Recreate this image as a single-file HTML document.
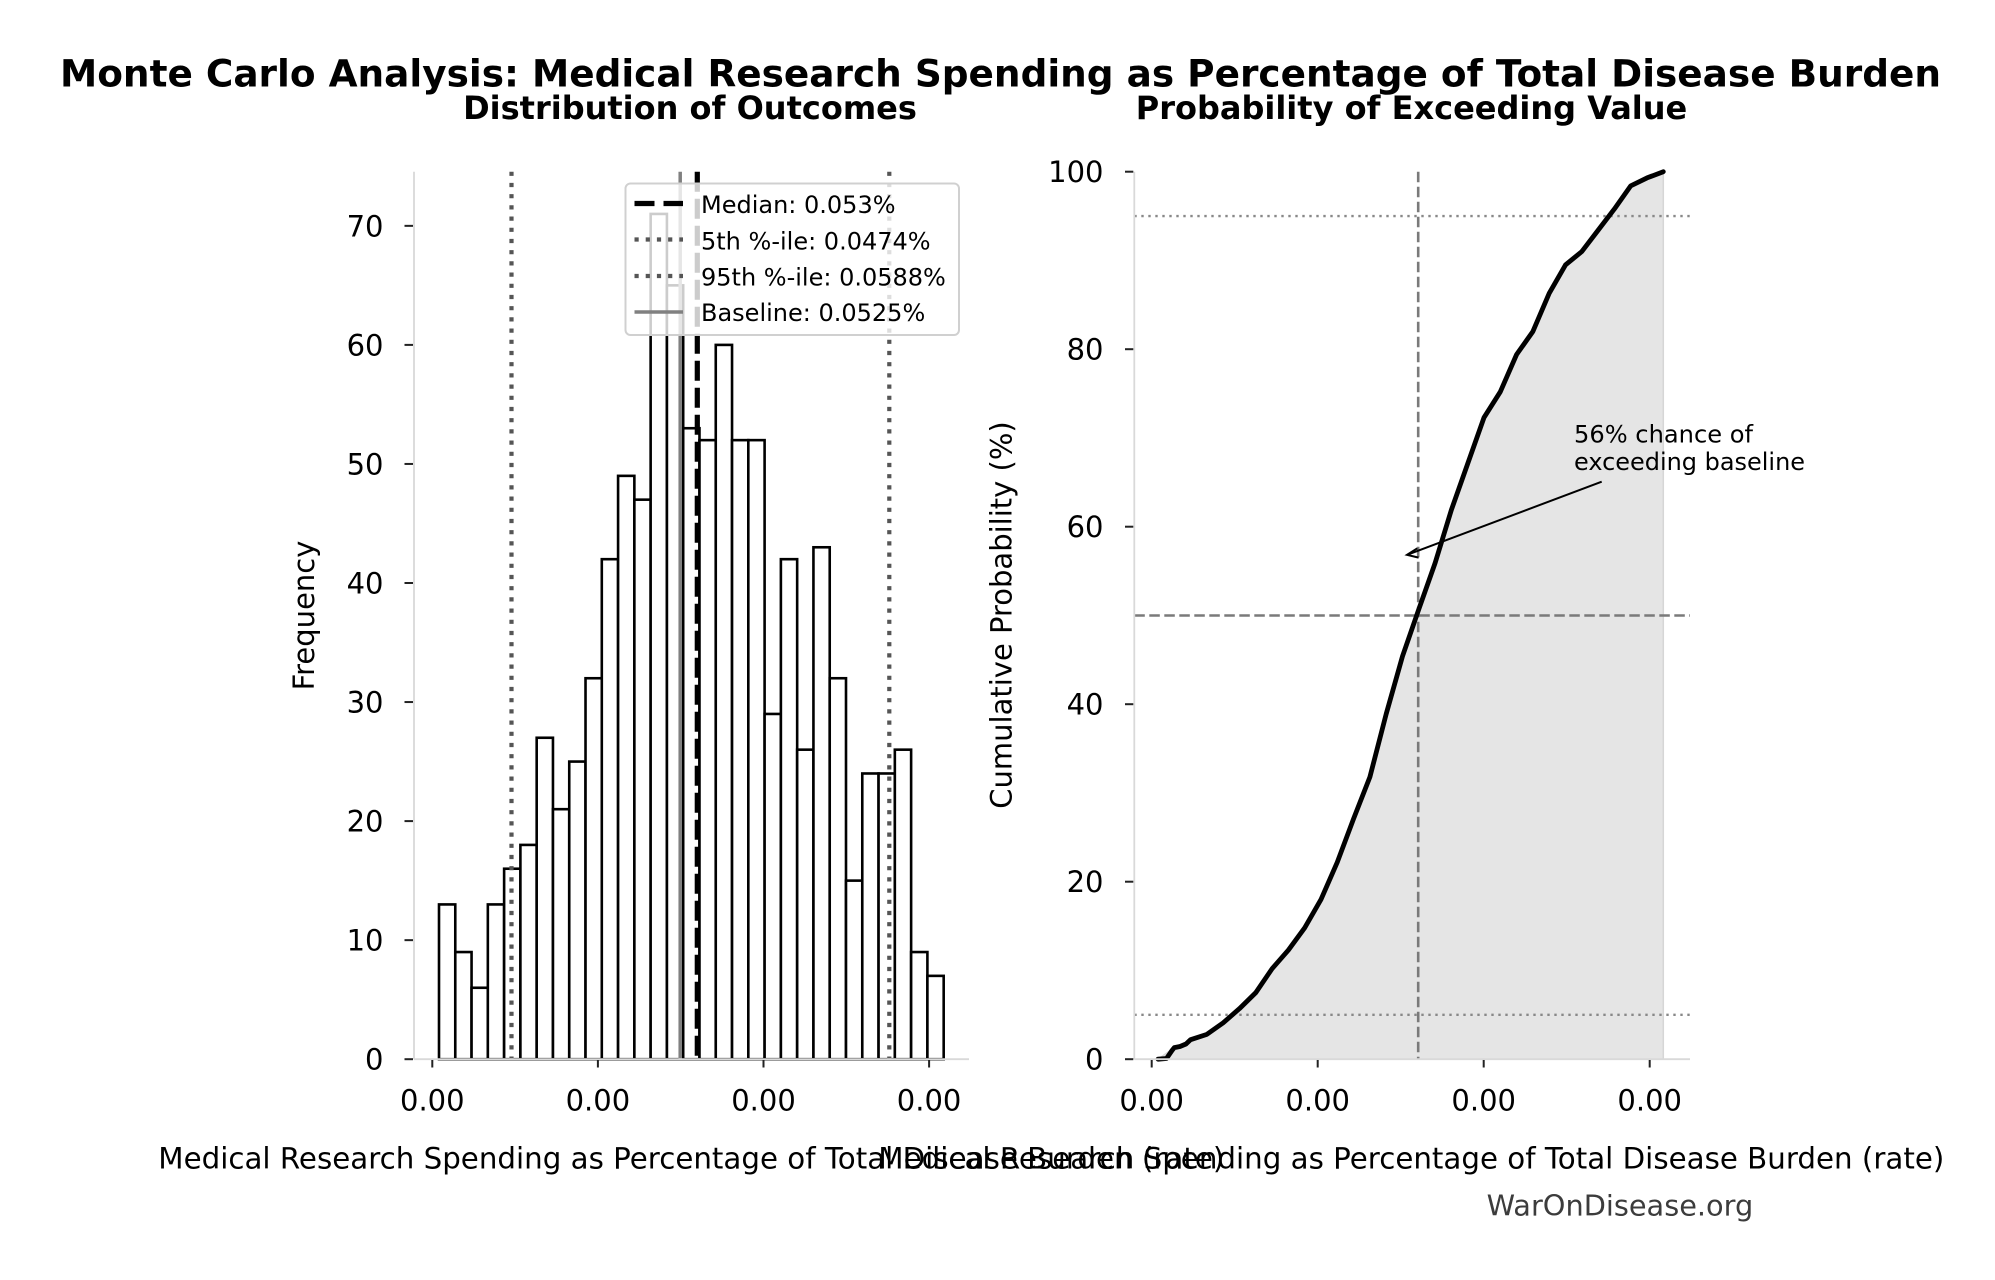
<!DOCTYPE html>
<html>
<head>
<meta charset="utf-8">
<style>
  html, body { margin: 0; padding: 0; background: #ffffff; }
  svg { display: block; }
  text { font-family: "DejaVu Sans", "Liberation Sans", sans-serif; fill: #000; }
</style>
</head>
<body>
<svg width="1995" height="1280" viewBox="0 0 1995 1280" xmlns="http://www.w3.org/2000/svg">
  <rect x="0" y="0" width="1995" height="1280" fill="#ffffff"/>

  <!-- Titles -->
  <text x="60" y="86.7" font-size="37.4" font-weight="bold" textLength="1881" lengthAdjust="spacingAndGlyphs">Monte Carlo Analysis: Medical Research Spending as Percentage of Total Disease Burden</text>
  <text x="690" y="119" font-size="32" font-weight="bold" text-anchor="middle">Distribution of Outcomes</text>
  <text x="1411.5" y="119" font-size="32" font-weight="bold" text-anchor="middle">Probability of Exceeding Value</text>

  <!-- ================= LEFT: HISTOGRAM ================= -->
  <g fill="#ffffff" stroke="#000000" stroke-width="2.6">
    <rect x="439.00" y="904.43" width="16.28" height="154.77"/>
    <rect x="455.28" y="952.05" width="16.28" height="107.15"/>
    <rect x="471.56" y="987.77" width="16.28" height="71.43"/>
    <rect x="487.84" y="904.43" width="16.28" height="154.77"/>
    <rect x="504.12" y="868.72" width="16.28" height="190.48"/>
    <rect x="520.40" y="844.91" width="16.28" height="214.29"/>
    <rect x="536.68" y="737.76" width="16.28" height="321.44"/>
    <rect x="552.96" y="809.19" width="16.28" height="250.01"/>
    <rect x="569.24" y="761.57" width="16.28" height="297.63"/>
    <rect x="585.52" y="678.24" width="16.28" height="380.96"/>
    <rect x="601.80" y="559.19" width="16.28" height="500.01"/>
    <rect x="618.08" y="475.85" width="16.28" height="583.35"/>
    <rect x="634.36" y="499.66" width="16.28" height="559.54"/>
    <rect x="650.64" y="213.94" width="16.28" height="845.26"/>
    <rect x="666.92" y="285.37" width="16.28" height="773.83"/>
    <rect x="683.20" y="428.23" width="16.28" height="630.97"/>
    <rect x="699.48" y="440.14" width="16.28" height="619.06"/>
    <rect x="715.76" y="344.90" width="16.28" height="714.30"/>
    <rect x="732.04" y="440.14" width="16.28" height="619.06"/>
    <rect x="748.32" y="440.14" width="16.28" height="619.06"/>
    <rect x="764.60" y="713.95" width="16.28" height="345.25"/>
    <rect x="780.88" y="559.19" width="16.28" height="500.01"/>
    <rect x="797.16" y="749.67" width="16.28" height="309.53"/>
    <rect x="813.44" y="547.28" width="16.28" height="511.92"/>
    <rect x="829.72" y="678.24" width="16.28" height="380.96"/>
    <rect x="846.00" y="880.62" width="16.28" height="178.58"/>
    <rect x="862.28" y="773.48" width="16.28" height="285.72"/>
    <rect x="878.56" y="773.48" width="16.28" height="285.72"/>
    <rect x="894.84" y="749.67" width="16.28" height="309.53"/>
    <rect x="911.12" y="952.05" width="16.28" height="107.15"/>
    <rect x="927.40" y="975.86" width="16.28" height="83.34"/>
  </g>

  <!-- vertical reference lines -->
  <line x1="697.3" y1="171.7" x2="697.3" y2="1059.2" stroke="#000000" stroke-width="5.2" stroke-dasharray="20 7"/>
  <line x1="511.5" y1="171.7" x2="511.5" y2="1059.2" stroke="#555555" stroke-width="4.2" stroke-dasharray="4.2 7"/>
  <line x1="889.3" y1="171.7" x2="889.3" y2="1059.2" stroke="#555555" stroke-width="4.2" stroke-dasharray="4.2 7"/>
  <line x1="680.2" y1="171.7" x2="680.2" y2="1059.2" stroke="#808080" stroke-width="3.5"/>

  <!-- left spines -->
  <line x1="414" y1="171.7" x2="414" y2="1059.2" stroke="#d9d9d9" stroke-width="1.8"/>
  <line x1="414" y1="1059.2" x2="969" y2="1059.2" stroke="#d9d9d9" stroke-width="1.8"/>

  <!-- left y ticks -->
  <g stroke="#222" stroke-width="2">
    <line x1="404.5" y1="1059.2" x2="413" y2="1059.2"/>
    <line x1="404.5" y1="940.15" x2="413" y2="940.15"/>
    <line x1="404.5" y1="821.1" x2="413" y2="821.1"/>
    <line x1="404.5" y1="702.05" x2="413" y2="702.05"/>
    <line x1="404.5" y1="583.0" x2="413" y2="583.0"/>
    <line x1="404.5" y1="463.95" x2="413" y2="463.95"/>
    <line x1="404.5" y1="344.9" x2="413" y2="344.9"/>
    <line x1="404.5" y1="225.85" x2="413" y2="225.85"/>
  </g>
  <g font-size="29" text-anchor="end">
    <text x="383.5" y="1069.7">0</text>
    <text x="383.5" y="950.65">10</text>
    <text x="383.5" y="831.6">20</text>
    <text x="383.5" y="712.55">30</text>
    <text x="383.5" y="593.5">40</text>
    <text x="383.5" y="474.45">50</text>
    <text x="383.5" y="355.4">60</text>
    <text x="383.5" y="236.35">70</text>
  </g>

  <!-- left x ticks -->
  <g stroke="#222" stroke-width="2">
    <line x1="432.3" y1="1060" x2="432.3" y2="1067.5"/>
    <line x1="597.9" y1="1060" x2="597.9" y2="1067.5"/>
    <line x1="763.5" y1="1060" x2="763.5" y2="1067.5"/>
    <line x1="929.1" y1="1060" x2="929.1" y2="1067.5"/>
  </g>
  <g font-size="29" text-anchor="middle">
    <text x="432.3" y="1110.5">0.00</text>
    <text x="597.9" y="1110.5">0.00</text>
    <text x="763.5" y="1110.5">0.00</text>
    <text x="929.1" y="1110.5">0.00</text>
  </g>

  <text x="314" y="615.5" font-size="29" text-anchor="middle" transform="rotate(-90 314 615.5)">Frequency</text>
  <text x="158.3" y="1168.3" font-size="29" textLength="1066" lengthAdjust="spacingAndGlyphs">Medical Research Spending as Percentage of Total Disease Burden (rate)</text>

  <!-- legend -->
  <rect x="625.5" y="183.5" width="333.5" height="151.5" rx="5" ry="5" fill="#ffffff" fill-opacity="0.8" stroke="#d0d0d0" stroke-width="2"/>
  <line x1="634.5" y1="203.5" x2="683" y2="203.5" stroke="#000000" stroke-width="5.2" stroke-dasharray="20 9"/>
  <line x1="634.5" y1="239.5" x2="683" y2="239.5" stroke="#555555" stroke-width="4.2" stroke-dasharray="4.2 7"/>
  <line x1="634.5" y1="276" x2="683" y2="276" stroke="#555555" stroke-width="4.2" stroke-dasharray="4.2 7"/>
  <line x1="634.5" y1="312" x2="683" y2="312" stroke="#808080" stroke-width="3.4"/>
  <g font-size="24">
    <text x="701" y="213">Median: 0.053%</text>
    <text x="701" y="249.4">5th %-ile: 0.0474%</text>
    <text x="701" y="285.4">95th %-ile: 0.0588%</text>
    <text x="701" y="320.8">Baseline: 0.0525%</text>
  </g>

  <!-- ================= RIGHT: CDF ================= -->
  <polygon fill="#e5e5e5" stroke="#d6d6d6" stroke-width="1.5"
    points="1158.0,1059.2 1174.3,1047.66 1190.6,1039.67 1206.9,1034.35 1223.2,1022.81 1239.5,1008.61 1255.8,992.64 1272.1,968.67 1288.4,950.04 1304.7,927.85 1321.0,899.45 1337.3,862.17 1353.6,818.69 1369.9,776.97 1386.2,713.96 1402.5,656.27 1418.8,609.24 1435.1,563.09 1451.4,509.84 1467.7,463.69 1484.0,417.54 1500.3,391.8 1516.6,354.52 1532.9,331.45 1549.2,293.29 1565.5,264.89 1581.8,251.57 1598.1,230.27 1614.4,208.97 1630.7,185.9 1647.0,177.91 1663.3,171.7 1663.3,1059.2"/>

  <!-- reference lines -->
  <line x1="1134.3" y1="216.1" x2="1690" y2="216.1" stroke="#888888" stroke-width="2.4" stroke-dasharray="2.4 4.6"/>
  <line x1="1134.3" y1="1014.8" x2="1690" y2="1014.8" stroke="#888888" stroke-width="2.4" stroke-dasharray="2.4 4.6"/>
  <line x1="1134.3" y1="615.5" x2="1690" y2="615.5" stroke="#7a7a7a" stroke-width="2.6" stroke-dasharray="10.5 4.5"/>
  <line x1="1418.2" y1="171.7" x2="1418.2" y2="1059.2" stroke="#7a7a7a" stroke-width="2.6" stroke-dasharray="10.5 4.5"/>

  <!-- CDF line -->
  <polyline fill="none" stroke="#000000" stroke-width="4.8" stroke-linejoin="round" stroke-linecap="round"
    points="1158.0,1059.2 1166.5,1058.5 1172.0,1050.5 1174.3,1047.66 1180,1046.5 1186,1044 1190.6,1039.67 1206.9,1034.35 1223.2,1022.81 1239.5,1008.61 1255.8,992.64 1272.1,968.67 1288.4,950.04 1304.7,927.85 1321.0,899.45 1337.3,862.17 1353.6,818.69 1369.9,776.97 1386.2,713.96 1402.5,656.27 1418.8,609.24 1435.1,563.09 1451.4,509.84 1467.7,463.69 1484.0,417.54 1500.3,391.8 1516.6,354.52 1532.9,331.45 1549.2,293.29 1565.5,264.89 1581.8,251.57 1598.1,230.27 1614.4,208.97 1630.7,185.9 1647.0,177.91 1663.3,171.7"/>

  <!-- right spines -->
  <line x1="1134.3" y1="171.7" x2="1134.3" y2="1059.2" stroke="#d9d9d9" stroke-width="1.8"/>
  <line x1="1134.3" y1="1059.2" x2="1690" y2="1059.2" stroke="#d9d9d9" stroke-width="1.8"/>

  <!-- right y ticks -->
  <g stroke="#222" stroke-width="2">
    <line x1="1125" y1="1059.2" x2="1133.3" y2="1059.2"/>
    <line x1="1125" y1="881.7" x2="1133.3" y2="881.7"/>
    <line x1="1125" y1="704.2" x2="1133.3" y2="704.2"/>
    <line x1="1125" y1="526.7" x2="1133.3" y2="526.7"/>
    <line x1="1125" y1="349.2" x2="1133.3" y2="349.2"/>
    <line x1="1125" y1="171.7" x2="1133.3" y2="171.7"/>
  </g>
  <g font-size="29" text-anchor="end">
    <text x="1103.5" y="1069.7">0</text>
    <text x="1103.5" y="892.2">20</text>
    <text x="1103.5" y="714.7">40</text>
    <text x="1103.5" y="537.2">60</text>
    <text x="1103.5" y="359.7">80</text>
    <text x="1103.5" y="182.2">100</text>
  </g>

  <!-- right x ticks -->
  <g stroke="#222" stroke-width="2">
    <line x1="1151.7" y1="1060" x2="1151.7" y2="1067.5"/>
    <line x1="1317.7" y1="1060" x2="1317.7" y2="1067.5"/>
    <line x1="1483.7" y1="1060" x2="1483.7" y2="1067.5"/>
    <line x1="1649.7" y1="1060" x2="1649.7" y2="1067.5"/>
  </g>
  <g font-size="29" text-anchor="middle">
    <text x="1151.7" y="1110.5">0.00</text>
    <text x="1317.7" y="1110.5">0.00</text>
    <text x="1483.7" y="1110.5">0.00</text>
    <text x="1649.7" y="1110.5">0.00</text>
  </g>

  <text x="1011.7" y="615" font-size="29" text-anchor="middle" transform="rotate(-90 1011.7 615)">Cumulative Probability (%)</text>
  <text x="878.3" y="1168.3" font-size="29" textLength="1066" lengthAdjust="spacingAndGlyphs">Medical Research Spending as Percentage of Total Disease Burden (rate)</text>

  <!-- annotation -->
  <text x="1574" y="442.7" font-size="23.6" textLength="179" lengthAdjust="spacingAndGlyphs">56% chance of</text>
  <text x="1574" y="470" font-size="23.6" textLength="231" lengthAdjust="spacingAndGlyphs">exceeding baseline</text>
  <line x1="1601.7" y1="481.7" x2="1407.5" y2="554.7" stroke="#000000" stroke-width="2"/>
  <polyline points="1417.3,548.3 1407,554.8 1418.6,557.6" fill="none" stroke="#000000" stroke-width="2" stroke-linejoin="miter"/>

  <!-- watermark -->
  <text x="1486.7" y="1215.7" font-size="28.6" textLength="266.6" lengthAdjust="spacingAndGlyphs" style="fill:#3c3c3c">WarOnDisease.org</text>
</svg>
</body>
</html>
